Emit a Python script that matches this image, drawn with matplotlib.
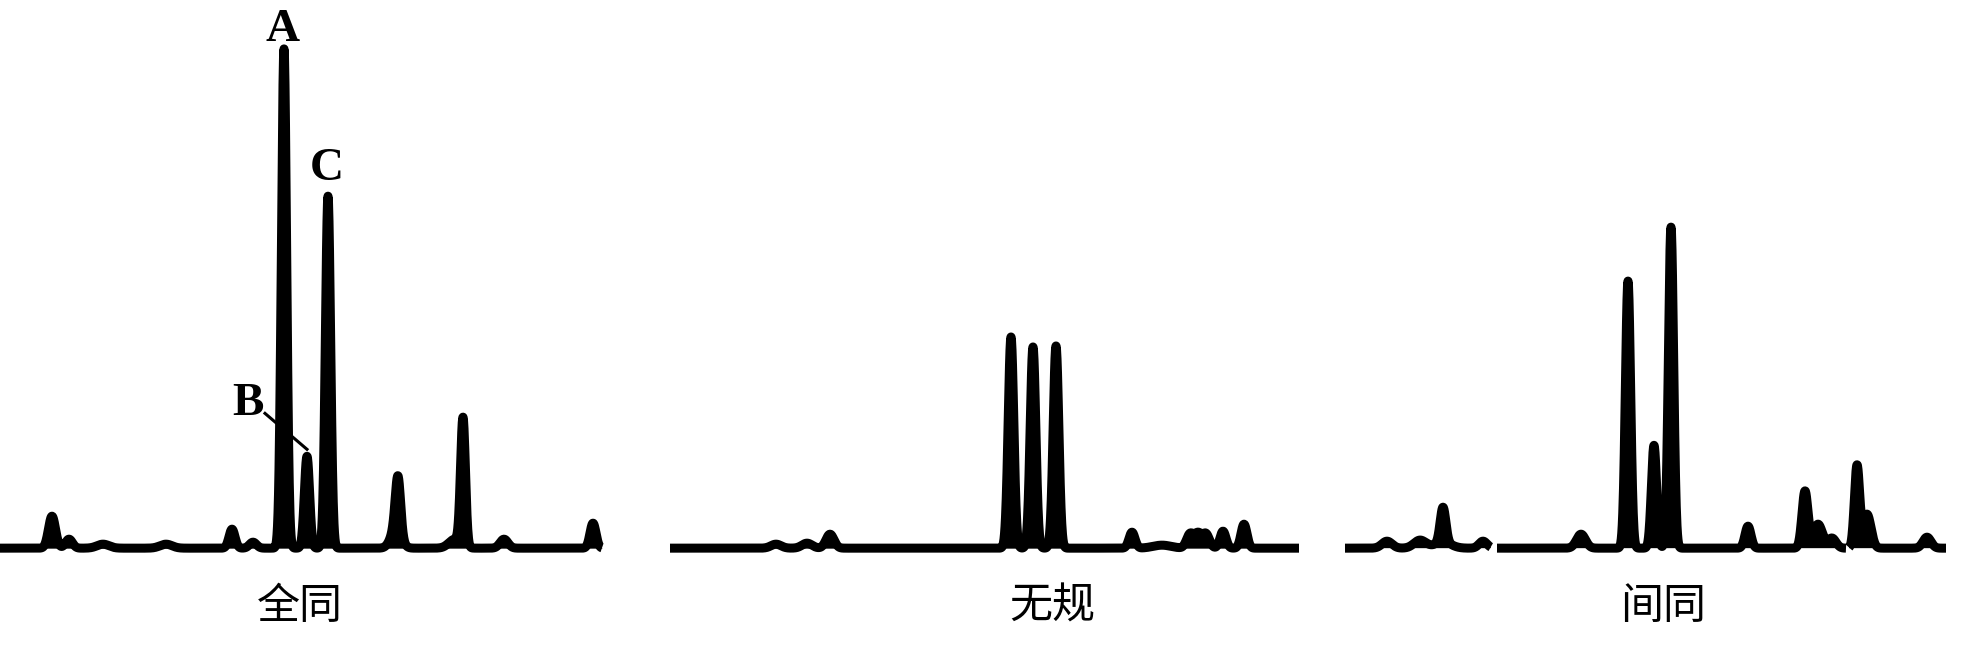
import numpy as np
import matplotlib.pyplot as plt

# peak tables: position (retention units), height (peak A = 100), width
iso_pos = [5.2, 6.9, 10.3, 16.6, 23.2, 25.3, 28.4, 30.7, 32.8, 39.6, 39.8, 45.5, 46.3, 50.4, 59.3]
iso_height = [6.4, 1.8, 0.8, 0.8, 3.8, 1.2, 100, 18.4, 70.5, 4.0, 10.8, 1.8, 25.5, 1.8, 5.0]
iso_width = [0.35, 0.35, 0.6, 0.6, 0.3, 0.35, 0.26, 0.26, 0.26, 0.5, 0.26, 0.6, 0.24, 0.4, 0.3]
iso_length = 60.2

ata_pos = [10.6, 13.7, 16.0, 34.1, 36.3, 38.6, 46.2, 49.2, 52.0, 52.8, 53.6, 55.3, 57.4]
ata_height = [0.8, 1.0, 2.8, 42.3, 40.3, 40.5, 3.2, 0.6, 2.8, 2.8, 2.8, 3.4, 4.8]
ata_width = [0.5, 0.5, 0.4, 0.28, 0.28, 0.28, 0.3, 0.9, 0.35, 0.35, 0.35, 0.3, 0.3]
ata_length = 62.9

syn_pos = [4.2, 7.5, 9.8, 9.8, 13.8, 23.6, 28.3, 30.9, 32.6, 40.3, 46.0, 47.3, 48.7, 51.2, 52.2, 58.2]
syn_height = [1.4, 1.6, 7.0, 1.2, 1.4, 2.8, 53.5, 20.6, 64.3, 4.4, 11.4, 4.8, 2.0, 16.4, 6.8, 2.2]
syn_width = [0.5, 0.6, 0.28, 0.8, 0.4, 0.45, 0.26, 0.26, 0.26, 0.3, 0.3, 0.45, 0.4, 0.26, 0.4, 0.4]
syn_gaps = [(14.6, 15.2), (50.1, 50.4)]
syn_length = 60.1

panel_names = ['全同', '无规', '间同']


def trace(length, pos, height, width, gaps=()):
    x = np.linspace(0, length, int(length * 40) + 1)
    y = np.zeros_like(x)
    for p, h, w in zip(pos, height, width):
        y += h * np.exp(-0.5 * ((x - p) / w) ** 2)
    for a, b in gaps:
        y[(x > a) & (x < b)] = np.nan
    return x, y


W, H = 1961, 655
fig = plt.figure(figsize=(W / 100, H / 100), dpi=100)

panels = [
    (0, trace(iso_length, iso_pos, iso_height, iso_width), iso_length),
    (670, trace(ata_length, ata_pos, ata_height, ata_width), ata_length),
    (1345, trace(syn_length, syn_pos, syn_height, syn_width, syn_gaps), syn_length),
]

axes = []
for left, (x, y), length in panels:
    ax = fig.add_axes([left / W, 0, length * 10 / W, 1])
    ax.fill_between(x, 0, y, where=~np.isnan(y), color='black', lw=0, clip_on=False)
    ax.plot(x, y, color='black', lw=6.5, solid_capstyle='butt',
            solid_joinstyle='round', clip_on=False)
    ax.set_xlim(0, length)
    ax.set_ylim(-21.4, 109.8)
    ax.axis('off')
    axes.append(ax)

ax = axes[0]
lab = dict(family='Liberation Serif', fontweight='bold', fontsize=34,
           ha='center', va='baseline')
ax.text(28.3, 101.6, 'A', **lab)
ax.text(32.7, 73.8, 'C', **lab)
ax.text(24.8, 26.6, 'B', **lab)
ax.plot([26.5, 30.7], [27.0, 19.8], color='black', lw=2.2, clip_on=False)

for cx, name in zip([300, 1052, 1663], panel_names):
    fig.text(cx / W, 1 - 607 / H, name, family=['Noto Sans CJK SC', 'DejaVu Sans'],
             fontsize=31, ha='center', va='center')

fig.savefig('out.png', dpi=100)
plt.close()
